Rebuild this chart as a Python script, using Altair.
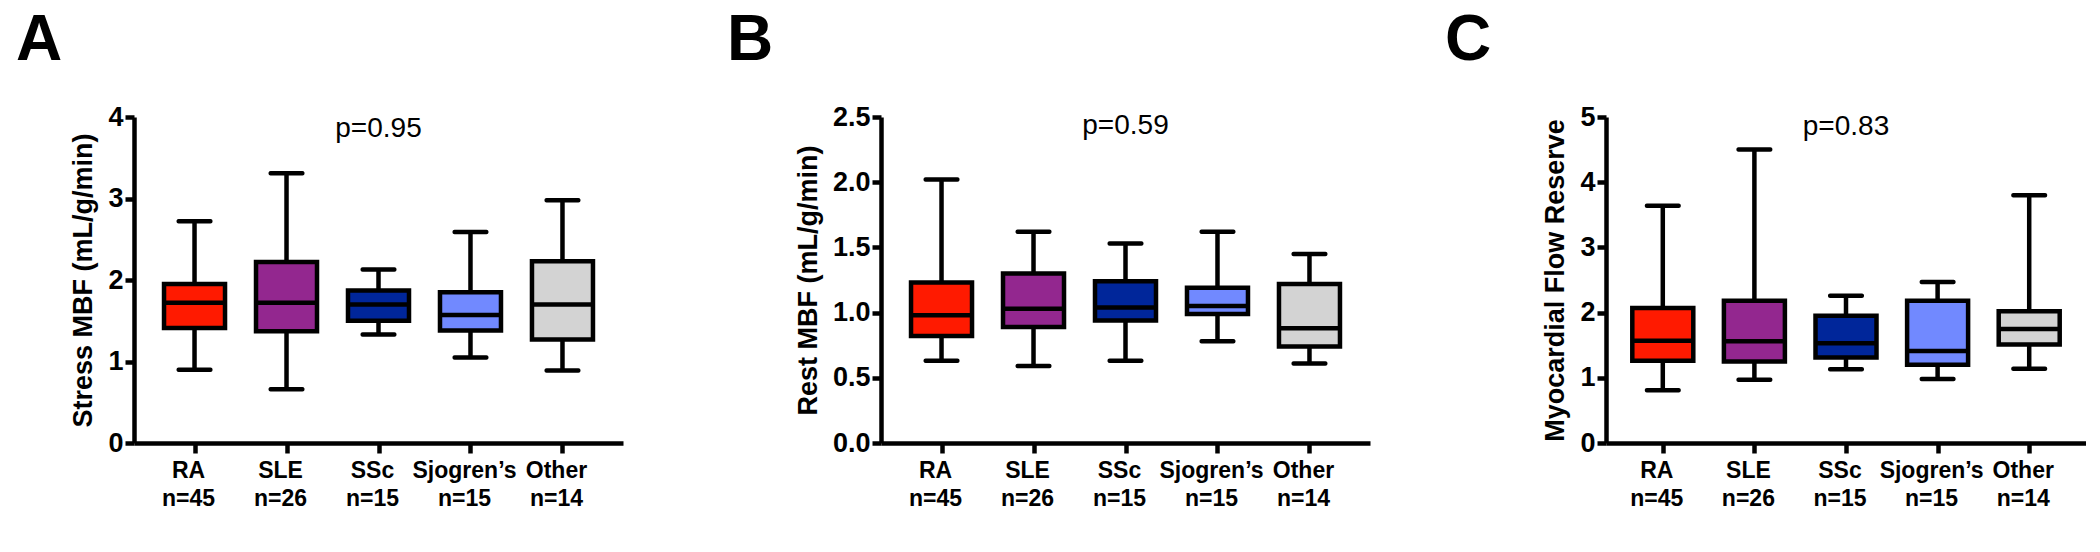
import altair as alt
import pandas as pd

groups = ["RA", "SLE", "SSc", "Sjogren’s", "Other"]
n_labels = ["n=45", "n=26", "n=15", "n=15", "n=14"]
colors = ["#FF1A00", "#93278F", "#00269A", "#7189FF", "#D3D3D3"]

# Panel A: Stress MBF (min, Q1, median, Q3, max)
stress_low = [0.90, 0.66, 1.33, 1.05, 0.89]
stress_q1 = [1.41, 1.37, 1.50, 1.38, 1.27]
stress_med = [1.72, 1.72, 1.70, 1.57, 1.70]
stress_q3 = [1.95, 2.22, 1.87, 1.85, 2.23]
stress_high = [2.72, 3.31, 2.13, 2.59, 2.98]

# Panel B: Rest MBF
rest_low = [0.63, 0.59, 0.63, 0.78, 0.61]
rest_q1 = [0.82, 0.89, 0.94, 0.99, 0.74]
rest_med = [0.98, 1.03, 1.04, 1.05, 0.88]
rest_q3 = [1.23, 1.30, 1.24, 1.19, 1.22]
rest_high = [2.02, 1.62, 1.53, 1.62, 1.45]

# Panel C: Myocardial Flow Reserve
mfr_low = [0.81, 0.97, 1.13, 0.98, 1.14]
mfr_q1 = [1.26, 1.25, 1.31, 1.20, 1.51]
mfr_med = [1.57, 1.56, 1.53, 1.41, 1.75]
mfr_q3 = [2.07, 2.18, 1.95, 2.18, 2.02]
mfr_high = [3.64, 4.50, 2.26, 2.47, 3.80]

p_texts = ["p=0.95", "p=0.59", "p=0.83"]
p_ypos = [3.85, 2.43, 4.84]

FONT = "Liberation Sans"
LW = 4.5


def panel(letter, dx, low, q1, med, q3, high, ymax, yvalues, yfmt, ytitle,
          ptext, py, width, xpad):
    df = pd.DataFrame({"group": groups, "n": n_labels, "low": low, "q1": q1,
                       "med": med, "q3": q3, "high": high})
    pdf = pd.DataFrame({"group": [groups[2]], "y": [py], "text": [ptext]})

    x = alt.X("group:N", sort=groups,
              scale=alt.Scale(type="point", padding=xpad),
              axis=alt.Axis(title=None, labels=False,
                            domainColor="black", domainWidth=LW, tickColor="black",
                            tickWidth=LW, tickSize=10, grid=False))
    yscale = alt.Scale(domain=[0, ymax], nice=False, zero=True)
    yaxis = alt.Axis(title=ytitle, values=yvalues, format=yfmt, grid=False,
                     labelFont=FONT, labelFontWeight="bold", labelFontSize=27,
                     labelColor="black", labelPadding=2,
                     domainColor="black", domainWidth=LW, tickColor="black",
                     tickWidth=LW, tickSize=9,
                     titleFont=FONT, titleFontWeight="bold", titleFontSize=27,
                     titleColor="black", titlePadding=10)

    base = alt.Chart(df)
    whisk = base.mark_rule(color="black", strokeWidth=LW).encode(
        x=x, y=alt.Y("low:Q", scale=yscale, axis=yaxis), y2="high:Q")
    box = base.mark_bar(size=61, stroke="black", strokeWidth=LW).encode(
        x=x, y=alt.Y("q1:Q"), y2="q3:Q",
        color=alt.Color("group:N", scale=alt.Scale(domain=groups, range=colors),
                        legend=None))
    median = base.mark_tick(color="black", thickness=LW, size=61, opacity=1).encode(
        x=x, y="med:Q")
    cap_lo = base.mark_tick(color="black", thickness=LW, size=36, opacity=1,
                            cornerRadius=2).encode(x=x, y="low:Q")
    cap_hi = base.mark_tick(color="black", thickness=LW, size=36, opacity=1,
                            cornerRadius=2).encode(x=x, y="high:Q")
    # category labels: two centred lines under each tick
    lab_style = dict(font=FONT, fontSize=23, fontWeight="bold", color="black",
                     align="center", baseline="top", dx=-6)
    cat1 = base.mark_text(dy=17, **lab_style).encode(
        x=x, y=alt.datum(0), text="group:N")
    cat2 = base.mark_text(dy=45, **lab_style).encode(
        x=x, y=alt.datum(0), text="n:N")
    ptxt = alt.Chart(pdf).mark_text(font=FONT, fontSize=28, color="black",
                                    baseline="middle").encode(
        x=x, y="y:Q", text="text:N")

    return alt.layer(whisk, box, median, cap_lo, cap_hi, cat1, cat2, ptxt).properties(
        width=width, height=326,
        title=alt.TitleParams(text=letter, anchor="start", frame="group", dx=dx,
                              fontSize=64, fontWeight="bold", font=FONT,
                              color="black", offset=30))


A = panel("A", -118, stress_low, stress_q1, stress_med, stress_q3, stress_high,
          4, [0, 1, 2, 3, 4], "d", "Stress MBF (mL/g/min)",
          p_texts[0], p_ypos[0], 489, 0.658)
B = panel("B", -154, rest_low, rest_q1, rest_med, rest_q3, rest_high,
          2.5, [0, 0.5, 1.0, 1.5, 2.0, 2.5], ".1f", "Rest MBF (mL/g/min)",
          p_texts[1], p_ypos[1], 489, 0.658)
C = panel("C", -161, mfr_low, mfr_q1, mfr_med, mfr_q3, mfr_high,
          5, [0, 1, 2, 3, 4, 5], "d", "Myocardial Flow Reserve",
          p_texts[2], p_ypos[2], 480, 0.62)

chart = alt.hconcat(alt.hconcat(A, B, spacing=104), C, spacing=75).properties(
    padding={"left": 8, "top": 1, "right": 0, "bottom": 0}
).configure_view(stroke=None)

chart.save("out.html", embed_options={"renderer": "svg", "actions": False})
